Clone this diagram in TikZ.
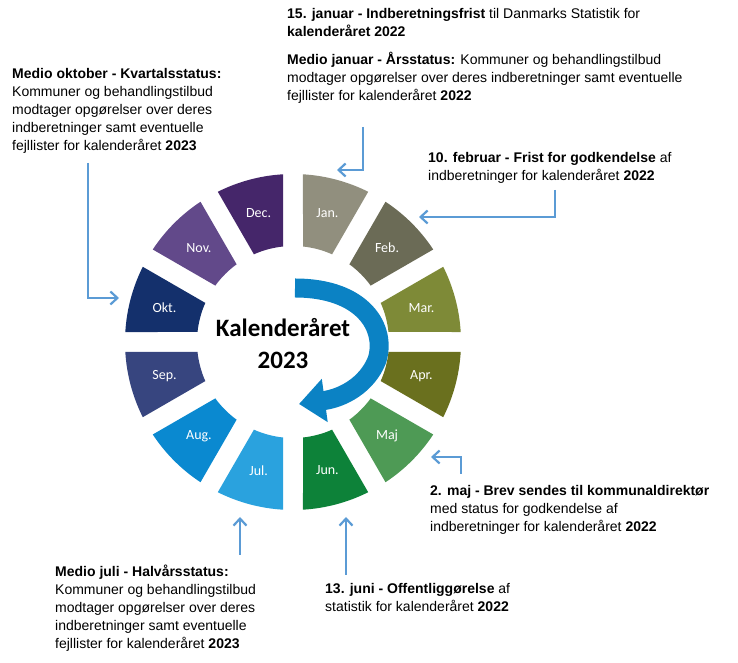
\documentclass[tikz,border=0pt]{standalone}
\usepackage{fontspec}
\setmainfont{Liberation Sans}
\newfontfamily\calib{Carlito}
\usetikzlibrary{arrows.meta}
\definecolor{cjan}{HTML}{918F7E}\definecolor{cfeb}{HTML}{6B6B56}
\definecolor{cmar}{HTML}{7E8A37}\definecolor{capr}{HTML}{6A701E}
\definecolor{cmaj}{HTML}{4E9A55}\definecolor{cjun}{HTML}{0D8239}
\definecolor{cjul}{HTML}{2AA2DE}\definecolor{caug}{HTML}{0A89D0}
\definecolor{csep}{HTML}{37457F}\definecolor{cokt}{HTML}{14306C}
\definecolor{cnov}{HTML}{62498A}\definecolor{cdec}{HTML}{45266A}
\definecolor{arr}{HTML}{5B9BD5}\definecolor{carr}{HTML}{0B82C4}
\tikzset{note/.style={anchor=north west,align=left,inner sep=0pt,font=\fontsize{14}{18}\selectfont},
 conn/.style={draw=arr,line width=2.2pt,-{Straight Barb[length=7pt,width=13pt]}},
 mlab/.style={text=white,font=\calib\fontsize{14}{16}\selectfont}}
\begin{document}
\begin{tikzpicture}[x=1pt,y=1pt]
\useasboundingbox (0,0) rectangle (738,663);
\begin{scope}[shift={(293,321)}]
\foreach \c/\m [count=\i from 0] in {cjan/Jan.,cfeb/Feb.,cmar/Mar.,capr/Apr.,cmaj/Maj,cjun/Jun.,cjul/Jul.,caug/Aug.,csep/Sep.,cokt/Okt.,cnov/Nov.,cdec/Dec.}{
 \begin{scope}[rotate=-30*\i]
 \fill[\c] (84.02:96) -- (86.59:168) arc[start angle=86.59,end angle=63.41,radius=168] -- (65.98:96) arc[start angle=65.98,end angle=84.02,radius=96] -- cycle;
 \end{scope}
 \node[mlab] (m\i) at ({75-30*\i}:133) {\m};
}
\draw[carr,line width=19pt,-{Triangle[length=26pt,width=42pt]}] (2,54) .. controls (70,54) and (94,14) .. (84,-18) .. controls (74,-43) and (50,-56) .. (6,-62);
\node[font=\calib\bfseries\fontsize{25}{32}\selectfont,align=center] (title) at (-10,-2) {Kalenderåret\\2023};
\end{scope}
\node[note] (n1) at (287,655) {\textbf{15. januar - Indberetningsfrist} til Danmarks Statistik for\\\textbf{kalenderåret 2022}};
\node[note] (n2) at (287,611) {\textbf{Medio januar - Årsstatus:} Kommuner og behandlingstilbud\\modtager opgørelser over deres indberetninger samt eventuelle\\fejllister for kalenderåret \textbf{2022}};
\node[note] (n3) at (428,511) {\textbf{10. februar - Frist for godkendelse} af\\indberetninger for kalenderåret \textbf{2022}};
\node[note] (n4) at (12,595) {\textbf{Medio oktober - Kvartalsstatus:}\\Kommuner og behandlingstilbud\\modtager opgørelser over deres\\indberetninger samt eventuelle\\fejllister for kalenderåret \textbf{2023}};
\node[note] (n5) at (430,178) {\textbf{2. maj - Brev sendes til kommunaldirektør}\\med status for godkendelse af\\indberetninger for kalenderåret \textbf{2022}};
\node[note] (n6) at (325,80) {\textbf{13. juni - Offentliggørelse} af\\statistik for kalenderåret \textbf{2022}};
\node[note] (n7) at (55,98) {\textbf{Medio juli - Halvårsstatus:}\\Kommuner og behandlingstilbud\\modtager opgørelser over deres\\indberetninger samt eventuelle\\fejllister for kalenderåret \textbf{2023}};
\coordinate (a1) at (363,536); \coordinate (e1) at (337,493);
\coordinate (a2) at (555,473); \coordinate (e2) at (419,446);
\coordinate (a3) at (88,500);  \coordinate (e3) at (119,365);
\coordinate (a4) at (461,189); \coordinate (e4) at (431,206);
\coordinate (a5) at (346,88);  \coordinate (e5) at (346,146);
\coordinate (a6) at (240,108); \coordinate (e6) at (240,146);
\draw[conn] (a1) |- (e1);
\draw[conn] (a2) |- (e2);
\draw[conn] (a3) |- (e3);
\draw[conn] (a4) |- (e4);
\draw[conn] (a5) -- (e5);
\draw[conn] (a6) -- (e6);
\end{tikzpicture}
\end{document}
